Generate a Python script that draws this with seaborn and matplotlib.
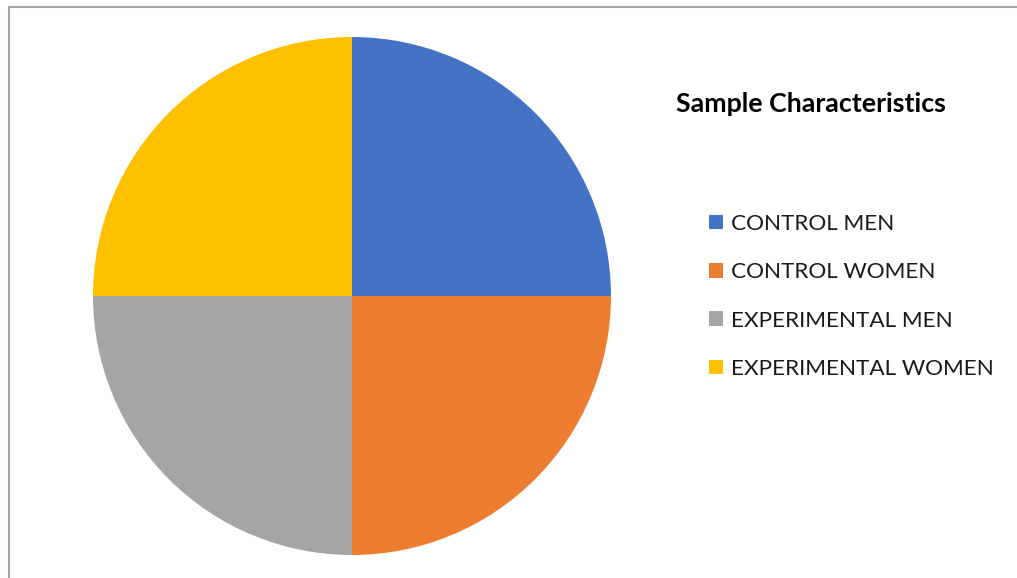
import matplotlib
matplotlib.use("Agg")
import matplotlib.pyplot as plt
import seaborn as sns
from matplotlib.patches import Rectangle

sns.set_theme(style="white")
plt.rcParams['font.family'] = ['Lato', 'DejaVu Sans']

categories = ["CONTROL MEN", "CONTROL WOMEN", "EXPERIMENTAL MEN", "EXPERIMENTAL WOMEN"]
values = [25, 25, 25, 25]
colors = ["#4472C4", "#ED7D31", "#A5A5A5", "#FFC000"]
title = "Sample Characteristics"

W, H = 1017, 578
fig = plt.figure(figsize=(W / 100, H / 100), dpi=100)
fig.patch.set_facecolor("white")

# outer chart frame (cropped at right and bottom)
fig.add_artist(Rectangle((8.5 / W, -0.1), 1.2, (H - 7.5) / H + 0.1, transform=fig.transFigure,
                         fill=False, edgecolor="#A6A6A6", linewidth=1.5))

cx, cy, r = 352, 296, 259
ax = fig.add_axes([(cx - r) / W, (H - cy - r) / H, 2 * r / W, 2 * r / H])
wedges, _ = ax.pie(values, colors=colors, startangle=90, counterclock=False, radius=1,
                   wedgeprops=dict(linewidth=0))
ax.set_xlim(-1, 1)
ax.set_ylim(-1, 1)
ax.set_aspect("equal")
ax.axis("off")

fig.text(676 / W, 1 - 104 / H, title, fontsize=19.3, fontweight="bold", color="black",
         ha="left", va="center")

leg = fig.legend(wedges, categories, loc="upper left",
                 bbox_to_anchor=(709 / W, 1 - 214 / H), frameon=False,
                 fontsize=16.2, handlelength=0.63, handleheight=0.63, handletextpad=0.36,
                 labelspacing=1.26, borderpad=0, borderaxespad=0)
for t in leg.get_texts():
    t.set_color("#1a1a1a")

fig.savefig("out.png", dpi=100, facecolor="white")
